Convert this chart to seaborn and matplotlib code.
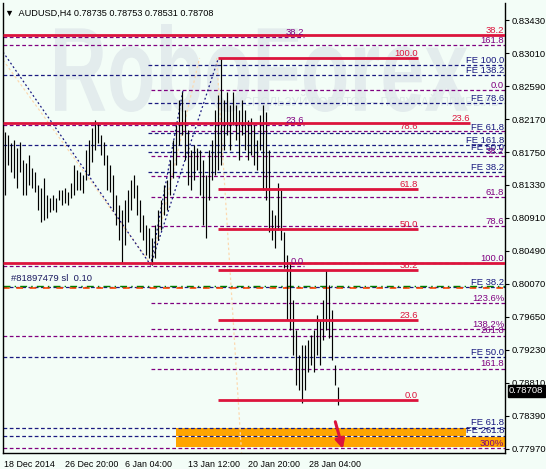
import numpy as np
import pandas as pd
import seaborn as sns
import matplotlib.pyplot as plt
import matplotlib.transforms as mtransforms
from matplotlib.patches import Rectangle, PathPatch
from matplotlib.textpath import TextPath
from matplotlib.font_manager import FontProperties

# ---- H4 bars (high / low), left to right ----
highs = [0.82005, 0.81966, 0.81865, 0.81903, 0.81801, 0.81877, 0.81648, 0.81610, 0.81712, 0.81546,
         0.81495, 0.81330, 0.81292, 0.81419, 0.81203, 0.81164, 0.81203, 0.81164, 0.81266, 0.81266,
         0.81292, 0.81241, 0.81355, 0.81585, 0.81521, 0.81495, 0.81457, 0.81776, 0.81903, 0.82056,
         0.82157, 0.82119, 0.81966, 0.81877, 0.81712, 0.81585, 0.81457, 0.81203, 0.81075, 0.81012,
         0.81139, 0.81266, 0.81394, 0.81457, 0.81330, 0.81139, 0.80948, 0.80821, 0.80783, 0.80655,
         0.80821, 0.81012, 0.81139, 0.81330, 0.81394, 0.81648, 0.81903, 0.82094, 0.82412, 0.82514,
         0.82285, 0.82030, 0.81776, 0.81839, 0.81801, 0.81776, 0.81648, 0.81457, 0.81776, 0.81903,
         0.82285, 0.82476, 0.82947, 0.82412, 0.82514, 0.82348, 0.82514, 0.82348, 0.82285, 0.82412,
         0.82285, 0.82157, 0.82183, 0.82094, 0.81903, 0.82221, 0.82348, 0.82259, 0.81776, 0.81012,
         0.80948, 0.81355, 0.81266, 0.80732, 0.80439, 0.80350, 0.79866, 0.79484, 0.79166, 0.79293,
         0.79293, 0.79357, 0.79420, 0.79484, 0.79675, 0.79611, 0.79866, 0.80248, 0.80057, 0.79739,
         0.79039, 0.78753]
lows = [0.81203, 0.81585, 0.81495, 0.81419, 0.81292, 0.81495, 0.81203, 0.81203, 0.81330, 0.81292,
        0.81241, 0.81012, 0.80859, 0.80884, 0.80910, 0.80986, 0.81012, 0.80986, 0.81139, 0.81075,
        0.81101, 0.81075, 0.81164, 0.81203, 0.81266, 0.81266, 0.81228, 0.81394, 0.81457, 0.81623,
        0.81776, 0.81865, 0.81712, 0.81585, 0.81266, 0.81241, 0.81012, 0.80821, 0.80630, 0.80337,
        0.80566, 0.80859, 0.81012, 0.81164, 0.80948, 0.80732, 0.80630, 0.80439, 0.80401, 0.80312,
        0.80401, 0.80630, 0.80757, 0.80948, 0.81012, 0.81203, 0.81419, 0.81585, 0.81839, 0.81966,
        0.81648, 0.81330, 0.81266, 0.81394, 0.81521, 0.81203, 0.80821, 0.80655, 0.81139, 0.81394,
        0.81457, 0.81521, 0.81585, 0.81776, 0.81966, 0.81776, 0.82094, 0.81903, 0.81648, 0.81966,
        0.81776, 0.81648, 0.81712, 0.81585, 0.81521, 0.81776, 0.81266, 0.81139, 0.80732, 0.80630,
        0.80528, 0.80757, 0.80630, 0.80273, 0.79611, 0.79484, 0.79166, 0.78784, 0.78720, 0.78555,
        0.78720, 0.78949, 0.79039, 0.78949, 0.79166, 0.79039, 0.79357, 0.79484, 0.79382, 0.79102,
        0.78784, 0.78531]
last_ohlc = [0.78735, 0.78753, 0.78531, 0.78708]

price_ticks = [0.83430, 0.83010, 0.82590, 0.82170, 0.81750, 0.81330, 0.80910,
               0.80490, 0.80070, 0.79650, 0.79230, 0.78810, 0.78390, 0.77970]
date_bars = [-0.3, 20, 40, 61, 81, 101.5]
date_labels = ["18 Dec 2014", "26 Dec 20:00", "6 Jan 04:00", "13 Jan 12:00", "20 Jan 20:00", "28 Jan 04:00"]

# red horizontal lines across the chart
red_full_prices = [0.83239, 0.82119, 0.80337]
red_full_ends = [166.8, 155.3, 166.8]
red_full_labels = ["38.2", "23.6", ""]

# red fibo retracement (13 Jan high)
red_fib_prices = [0.82947, 0.82017, 0.81279, 0.80770, 0.80248, 0.79611, 0.78593]
red_fib_labels = ["100.0", "78.6", "61.8", "50.0", "38.2", "23.6", "0.0"]
red_fib_span = [71.3, 137.7]

# purple fibo A (left part)
purA_prices = [0.83214, 0.82094, 0.80299]
purA_labels = ["38.2", "23.6", "0.0"]
purA_span = [-0.5, 99.7]

# purple fibo B
purB_prices = [0.82539, 0.82017, 0.81699, 0.81444, 0.81177, 0.80808, 0.80337, 0.79828, 0.79496, 0.78988]
purB_labels = ["0.0", "", "38.2", "", "61.8", "78.6", "100.0", "123.6%", "138.2%", "161.8"]
purB_span = [48.7, 166.8]

# purple fibo C (extension levels)
purC_prices = [0.83112, 0.79408, 0.77982]
purC_labels = ["161.8", "261.8", "300%"]
purC_span = [-0.5, 166.8]

# fibo expansions
fe1_prices = [0.82858, 0.82374, 0.81996, 0.81750, 0.81495]
fe1_labels = ["FE 100.0", "FE 78.6", "FE 61.8", "FE 50.0", "FE 38.2"]
fe1_span = [47.7, 166.8]
fe2_prices = [0.82730, 0.81839, 0.78135]
fe2_labels = ["FE 138.2", "FE 161.8", "FE 261.8"]
fe3_prices = [0.80031, 0.79140, 0.78237]
fe3_labels = ["FE 38.2", "FE 50.0", "FE 61.8"]
fe_full_span = [-0.5, 166.8]

# target zone boxes
zone_bottoms = [0.78135, 0.77995]
zone_tops = [0.78237, 0.78122]
zone_starts = [57.3, 57.3]
zone_ends = [153.7, 166.8]

# diagonal helper lines of the tools (bar, price)
navy_path_bars = [-0.5, 48.7, 71.3]
navy_path_prices = [0.83023, 0.80312, 0.82947]
navy2_bars = [48.7, 59.5]
navy2_prices = [0.80312, 0.82539]
peach_path_bars = [-0.5, 49.0, 65.0]
peach_path_prices = [0.82921, 0.80312, 0.82947]
peach2_bars = [70.7, 79.0]
peach2_prices = [0.82947, 0.77918]

arrow_from = [110.0, 0.78350]
arrow_to = [113.0, 0.77935]

sl_price = 0.80019
order_price = 0.80044

BG = "#F3FDF7"
RED = "#DC143C"
PURPLE = "#800080"
NAVY = "#1A1A80"
ORANGE = "#FFA500"
PEACH = "#FCD9B0"

sns.set_style("white")
plt.rcParams['font.family'] = ['Liberation Sans', 'DejaVu Sans']

W, H = 546, 469
fig = plt.figure(figsize=(W / 100, H / 100), dpi=100, facecolor=BG)
ax = fig.add_axes([3 / W, 16 / H, 502 / W, 450 / H])
ax.set_facecolor(BG)
ax.set_xlim(-0.5, 166.8)
ax.set_ylim(0.77918, 0.83647)

# watermark, stretched to the logo box (pixels: x 55..468, y 25..110 from top)
tp = TextPath((0, 0), "RoboForex", size=100,
              prop=FontProperties(family=["Liberation Sans", "DejaVu Sans"], weight="bold"))
bb = tp.get_extents()
wm_tr = (mtransforms.Affine2D().translate(-bb.x0, -bb.y0)
         .scale(413 / bb.width, 88 / bb.height).translate(55, H - 112)
         .scale(1 / W, 1 / H) + fig.transFigure)
fig.patches.append(PathPatch(tp, transform=wm_tr, facecolor="#E3ECED", edgecolor="none", zorder=0.5))
ax.text(0.725, 0.777, "ИСПОЛЬЗУЙ РОБОТОВ – ПОЛУЧАЙ ПРИБЫЛЬ", transform=ax.transAxes,
        ha="center", va="center", fontsize=8.5, color="#DEE8E9", zorder=0.6)
ax.set_zorder(1)
ax.patch.set_alpha(0)

dash = (0, (3, 2))
fs = 6.8


def levels(prices, labels, span, color, label_x, label_color, ls=dash, lw=0.9, z=2):
    for p, lab in zip(prices, labels):
        ax.hlines(p, span[0], span[1], colors=color, linestyles=ls, linewidth=lw, zorder=z)
        if lab:
            ax.text(label_x, p + 0.00006, lab, ha="right", va="bottom", fontsize=fs,
                    color=label_color, zorder=6)


levels(purA_prices, purA_labels, purA_span, PURPLE, purA_span[1], PURPLE)
levels(purB_prices, purB_labels, purB_span, PURPLE, 166.5, PURPLE)
levels(purC_prices, purC_labels, purC_span, PURPLE, 166.5, PURPLE)
levels(fe1_prices, fe1_labels, fe1_span, NAVY, 166.5, NAVY)
levels(fe2_prices, fe2_labels, fe_full_span, NAVY, 166.5, NAVY)
levels(fe3_prices, fe3_labels, fe_full_span, NAVY, 166.5, NAVY)

# target zones
for b, t, s, e in zip(zone_bottoms, zone_tops, zone_starts, zone_ends):
    ax.add_patch(Rectangle((s, b), e - s, t - b, facecolor=ORANGE, edgecolor="none", zorder=1))

# order / stop-loss line
ax.hlines(sl_price, -0.5, 166.8, colors="#FF4500", linestyles=(0, (4, 4)), linewidth=1.2, zorder=2)
ax.hlines(order_price, -0.5, 166.8, colors="#008000", linestyles=(0, (5, 3, 1, 3)), linewidth=1.0, zorder=2)
ax.text(2, order_price + 0.00035, "#81897479 sl  0.10", fontsize=fs, color="#1A1A60",
        ha="left", va="bottom", zorder=6)

# diagonal tool lines
sns.lineplot(x=navy_path_bars, y=navy_path_prices, ax=ax, color=NAVY, linestyle=(0, (1.5, 2)),
             linewidth=0.9, zorder=2, sort=False)
sns.lineplot(x=navy2_bars, y=navy2_prices, ax=ax, color=NAVY, linestyle=(0, (1.5, 2)),
             linewidth=0.9, zorder=2, sort=False)
sns.lineplot(x=peach_path_bars, y=peach_path_prices, ax=ax, color=PEACH, linestyle=(0, (2, 2)),
             linewidth=0.9, zorder=1, sort=False)
sns.lineplot(x=peach2_bars, y=peach2_prices, ax=ax, color=PEACH, linestyle=(0, (2, 2)),
             linewidth=0.9, zorder=1, sort=False)

# price bars
bars = pd.DataFrame({"bar": np.arange(len(highs)), "high": highs, "low": lows})
ax.vlines(bars["bar"], bars["low"], bars["high"], colors="black", linewidth=0.85, zorder=3)

# red lines on top
for p, e, lab in zip(red_full_prices, red_full_ends, red_full_labels):
    ax.hlines(p, -0.5, e, colors=RED, linewidth=2.0, zorder=4)
    if lab:
        ax.text(e - 0.3, p + 0.00006, lab, ha="right", va="bottom", fontsize=fs, color=RED, zorder=6)
for p, lab in zip(red_fib_prices, red_fib_labels):
    if lab != "78.6":
        ax.hlines(p, red_fib_span[0], red_fib_span[1], colors=RED, linewidth=2.0, zorder=4)
    ax.text(red_fib_span[1], p + 0.00006, lab, ha="right", va="bottom", fontsize=fs, color=RED, zorder=6)

# forecast arrow
ax.annotate("", xy=arrow_to, xytext=arrow_from,
            arrowprops=dict(arrowstyle="-|>", color=RED, lw=2.2, mutation_scale=14), zorder=7)

# axes styling
ax.spines["top"].set_visible(False)
for s in ["left", "right", "bottom"]:
    ax.spines[s].set_color("black")
    ax.spines[s].set_linewidth(1.0)

ax.yaxis.tick_right()
ax.set_yticks(price_ticks)
ax.set_yticklabels([f"{p:.5f}" for p in price_ticks])
ax.tick_params(axis="y", direction="out", length=3, width=0.8, labelsize=fs, pad=2, colors="black")
ax.set_xticks(date_bars)
ax.set_xticklabels(date_labels, ha="left")
ax.tick_params(axis="x", direction="out", length=3, width=0.8, labelsize=6.4, pad=2, colors="black")
ax.grid(False)

# current price marker
tr = mtransforms.blended_transform_factory(ax.transAxes, ax.transData)
ax.text(1.008, last_ohlc[3], f"{last_ohlc[3]:.5f}", transform=tr, ha="left", va="center",
        fontsize=fs, color="white", zorder=8,
        bbox=dict(boxstyle="square,pad=0.12", facecolor="black", edgecolor="black"))

# header
ax.text(0.004, 0.987, "▼  AUDUSD,H4 " + " ".join(f"{v:.5f}" for v in last_ohlc),
        transform=ax.transAxes, ha="left", va="top", fontsize=6.6, color="black", zorder=8)

fig.savefig("out.png", dpi=100, facecolor=BG)
